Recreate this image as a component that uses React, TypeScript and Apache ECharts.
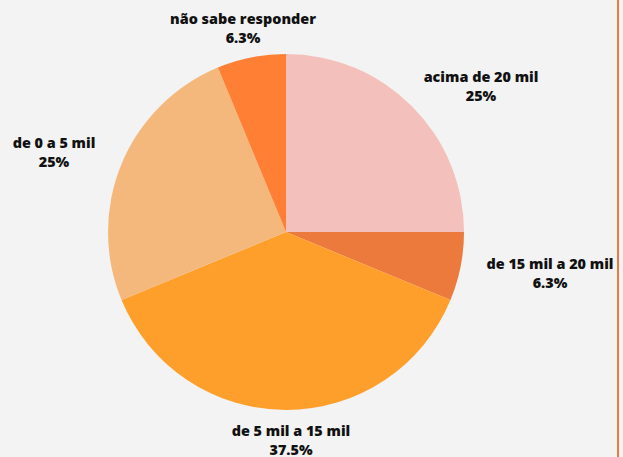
import React, { useEffect, useRef } from "react";
import * as echarts from "echarts";

const categories = [
  "acima de 20 mil",
  "de 15 mil a 20 mil",
  "de 5 mil a 15 mil",
  "de 0 a 5 mil",
  "não sabe responder",
];
const counts = [4, 1, 6, 4, 1];
const colors = ["#F4C0BB", "#EB7A3C", "#FF9F2B", "#F4B87C", "#FF7F34"];
const labelCenters: [number, number][] = [
  [481, 86],
  [550, 273],
  [291, 440],
  [54, 152],
  [243, 28],
];

export default function App() {
  const ref = useRef<HTMLDivElement>(null);
  useEffect(() => {
    document.body.style.margin = "0";
    const chart = echarts.init(ref.current!, null, { renderer: "svg" });
    const total = counts.reduce((a, b) => a + b, 0);
    const fmtPct = (v: number) => {
      const p = (v / total) * 100;
      let s = p.toFixed(1);
      if (s.endsWith(".0")) s = s.slice(0, -2);
      return s + "%";
    };
    chart.setOption({
      animation: false,
      backgroundColor: "#F3F3F3",
      graphic: [
        {
          type: "rect",
          shape: { x: 617, y: 0, width: 2, height: 457 },
          style: { fill: "#EE7A3C" },
          z: 10,
        },
      ],
      series: [
        {
          type: "pie",
          center: [286, 232],
          radius: 178,
          startAngle: 90,
          clockwise: true,
          data: categories.map((c, i) => ({
            name: c,
            value: counts[i],
            itemStyle: { color: colors[i] },
          })),
          itemStyle: { borderWidth: 0 },
          emphasis: { disabled: true },
          label: {
            show: true,
            position: "outside",
            alignTo: "none",
            overflow: "none",
            width: 300,
            formatter: (p: any) => `${p.name}\n${fmtPct(p.value)}`,
            fontFamily: "Open Sans",
            fontWeight: 800,
            fontSize: 14.4,
            lineHeight: 19,
            color: "#111111",
            align: "center",
          },
          labelLine: { show: false },
          labelLayout: (params: any) => {
            const [x, y] = labelCenters[params.dataIndex];
            return { x, y, align: "center", verticalAlign: "middle" };
          },
        },
      ],
    });
    return () => chart.dispose();
  }, []);
  return <div ref={ref} style={{ width: 623, height: 457 }} />;
}
